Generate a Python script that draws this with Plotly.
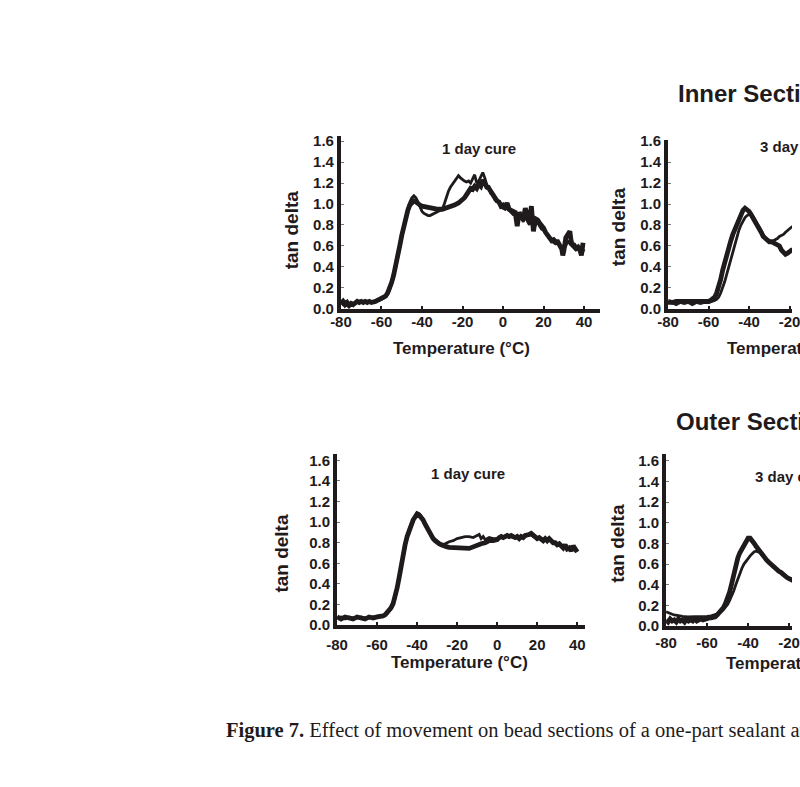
import plotly.graph_objects as go

# ---------------- data ----------------
x_tick_vals = [-80, -60, -40, -20, 0, 20, 40]
x_tick_text = ["-80", "-60", "-40", "-20", "0", "20", "40"]
y_tick_vals = [0.0, 0.2, 0.4, 0.6, 0.8, 1.0, 1.2, 1.4, 1.6]
y_tick_text = ["0.0", "0.2", "0.4", "0.6", "0.8", "1.0", "1.2", "1.4", "1.6"]

section_titles = ["Inner Section", "Outer Section"]
panel_titles = ["1 day cure", "3 day cure"]
x_title = "Temperature (°C)"
y_title = "tan delta"
caption_bold = "Figure 7."
caption_text = "Effect of movement on bead sections of a one-part sealant at"

# (temperature °C, tan delta) points
inner_1day_a = [
    (-80, 0.05), (-79, 0.07), (-78, 0.04), (-77, 0.06), (-76, 0.03), (-75, 0.05), (-74, 0.04), (-73, 0.06),
    (-72, 0.07), (-71, 0.06), (-70, 0.07), (-69, 0.06), (-68, 0.07), (-67, 0.06), (-66, 0.07), (-65, 0.06),
    (-64, 0.06), (-63, 0.07), (-62, 0.08), (-61, 0.09), (-60, 0.09), (-59, 0.10), (-58, 0.12), (-57, 0.15),
    (-56, 0.19), (-55, 0.25), (-54, 0.32), (-53, 0.40), (-52, 0.50), (-51, 0.60), (-50, 0.70), (-49, 0.79),
    (-48, 0.87), (-47, 0.94), (-46, 0.99), (-45, 1.02), (-44, 1.03), (-43, 1.02), (-42, 1.00), (-41, 0.99),
    (-40, 0.98), (-38, 0.97), (-36, 0.96), (-34, 0.955), (-32, 0.95), (-30, 0.95), (-28, 0.96), (-26, 0.97),
    (-24, 0.99), (-22, 1.01), (-20, 1.04), (-19, 1.06), (-18, 1.09), (-17, 1.13), (-16, 1.15), (-15, 1.14),
    (-14, 1.17), (-13, 1.15), (-12, 1.19), (-11, 1.17), (-10, 1.23), (-9, 1.20), (-8, 1.16), (-7, 1.15),
    (-6, 1.12), (-5, 1.08), (-4, 1.06), (-3, 1.03), (-2, 1.02), (-1, 0.98), (0, 0.99), (1, 0.97),
    (2, 1.01), (3, 0.95), (4, 0.94), (5, 0.93), (6, 0.92), (7, 0.79), (7.5, 0.90), (8, 0.92),
    (9, 0.88), (10, 0.85), (11, 0.96), (12, 0.86), (13, 0.82), (14, 0.98), (15, 0.74), (16, 0.86),
    (17, 0.85), (18, 0.82), (19, 0.80), (20, 0.77), (21, 0.73), (22, 0.70), (23, 0.68), (24, 0.65),
    (25, 0.66), (26, 0.64), (27, 0.64), (28, 0.60), (29, 0.57), (29.5, 0.51), (30, 0.55), (31, 0.68),
    (32, 0.72), (33, 0.74), (33.5, 0.66), (34, 0.62), (35, 0.61), (36, 0.58), (37, 0.59), (38, 0.56),
    (38.7, 0.51), (39, 0.56), (39.5, 0.63),
]
inner_1day_b = [
    (-80, 0.06), (-79, 0.04), (-78, 0.07), (-77, 0.05), (-76, 0.04), (-75, 0.06), (-74, 0.05), (-73, 0.05),
    (-72, 0.06), (-71, 0.07), (-70, 0.06), (-69, 0.07), (-68, 0.07), (-67, 0.06), (-66, 0.07), (-65, 0.07),
    (-64, 0.06), (-63, 0.07), (-62, 0.08), (-61, 0.08), (-60, 0.09), (-59, 0.10), (-58, 0.12), (-57, 0.14),
    (-56, 0.18), (-55, 0.24), (-54, 0.31), (-53, 0.39), (-52, 0.49), (-51, 0.59), (-50, 0.69), (-49, 0.79),
    (-48, 0.88), (-47, 0.96), (-46, 1.02), (-45, 1.06), (-44, 1.08), (-43, 1.06), (-42, 1.02), (-41, 0.97),
    (-40, 0.93), (-39, 0.91), (-38, 0.90), (-37, 0.89), (-36, 0.89), (-35, 0.90), (-34, 0.91), (-33, 0.92),
    (-32, 0.93), (-31, 0.94), (-30, 0.95), (-29, 1.00), (-28, 1.07), (-27, 1.12), (-26, 1.16), (-25, 1.19),
    (-24, 1.22), (-23, 1.25), (-22, 1.27), (-21, 1.25), (-20, 1.23), (-19, 1.22), (-18, 1.21), (-17, 1.22),
    (-16, 1.20), (-15, 1.24), (-14, 1.28), (-13, 1.20), (-12, 1.22), (-11, 1.26), (-10, 1.30), (-9, 1.25),
    (-8, 1.18), (-7, 1.17), (-6, 1.10), (-5, 1.09), (-4, 1.04), (-3, 1.04), (-2, 1.00), (-1, 0.97),
    (0, 0.96), (1, 0.95), (2, 0.96), (3, 0.94), (4, 0.91), (5, 0.90), (6, 0.90), (7, 0.88),
    (8, 0.86), (9, 0.87), (10, 0.83), (11, 0.88), (12, 0.84), (13, 0.80), (14, 0.87), (15, 0.82),
    (16, 0.80), (17, 0.83), (18, 0.79), (19, 0.76), (20, 0.75), (21, 0.72), (22, 0.70), (23, 0.67),
    (24, 0.66), (25, 0.63), (26, 0.62), (27, 0.63), (28, 0.60), (29, 0.58), (30, 0.57), (31, 0.60),
    (32, 0.65), (33, 0.62), (34, 0.60), (35, 0.58), (36, 0.56), (37, 0.57), (38, 0.54), (39, 0.53),
    (40, 0.57),
]
inner_3day_a = [
    (-80, 0.07), (-78, 0.06), (-76, 0.07), (-74, 0.07), (-72, 0.06), (-70, 0.07), (-68, 0.07), (-66, 0.06),
    (-64, 0.07), (-62, 0.07), (-61, 0.07), (-60, 0.07), (-59, 0.08), (-58, 0.09), (-57, 0.11), (-56, 0.15),
    (-55, 0.20), (-54, 0.28), (-53, 0.37), (-52, 0.45), (-51, 0.53), (-50, 0.59), (-49, 0.65), (-48, 0.71),
    (-47, 0.76), (-46, 0.81), (-45, 0.86), (-44, 0.91), (-43, 0.94), (-42, 0.96), (-41, 0.95), (-40, 0.93),
    (-39, 0.90), (-38, 0.87), (-37, 0.84), (-36, 0.81), (-35, 0.77), (-34, 0.73), (-33, 0.69), (-32, 0.67),
    (-31, 0.65), (-30, 0.64), (-29, 0.64), (-28, 0.63), (-27, 0.62), (-26, 0.61), (-25, 0.60), (-24, 0.56),
    (-23, 0.53), (-22, 0.52), (-21, 0.53), (-20, 0.55), (-19, 0.56), (-18, 0.56), (-17, 0.57),
]
inner_3day_b = [
    (-80, 0.05), (-78, 0.06), (-76, 0.04), (-74, 0.06), (-72, 0.05), (-70, 0.06), (-68, 0.04), (-66, 0.06),
    (-64, 0.05), (-62, 0.06), (-60, 0.06), (-58, 0.07), (-57, 0.08), (-56, 0.09), (-55, 0.11), (-54, 0.15),
    (-53, 0.20), (-52, 0.26), (-51, 0.33), (-50, 0.40), (-49, 0.48), (-48, 0.56), (-47, 0.63), (-46, 0.69),
    (-45, 0.75), (-44, 0.80), (-43, 0.84), (-42, 0.87), (-41, 0.89), (-40, 0.90), (-39, 0.91), (-38, 0.88),
    (-37, 0.84), (-36, 0.81), (-35, 0.78), (-34, 0.74), (-33, 0.71), (-32, 0.68), (-31, 0.66), (-30, 0.65),
    (-29, 0.64), (-28, 0.65), (-27, 0.66), (-26, 0.67), (-25, 0.69), (-24, 0.70), (-23, 0.71), (-22, 0.73),
    (-21, 0.75), (-20, 0.77), (-19, 0.78), (-18, 0.79), (-17, 0.80),
]
outer_1day_a = [
    (-80, 0.08), (-78, 0.06), (-76, 0.08), (-74, 0.07), (-72, 0.06), (-70, 0.08), (-68, 0.07), (-66, 0.06),
    (-64, 0.08), (-62, 0.07), (-60, 0.08), (-58, 0.08), (-57, 0.09), (-56, 0.10), (-55, 0.12), (-54, 0.14),
    (-53, 0.17), (-52, 0.21), (-51, 0.27), (-50, 0.36), (-49, 0.46), (-48, 0.58), (-47, 0.69), (-46, 0.78),
    (-45, 0.86), (-44, 0.92), (-43, 0.98), (-42, 1.02), (-41, 1.05), (-40, 1.08), (-39, 1.07), (-38, 1.05),
    (-37, 1.02), (-36, 0.98), (-35, 0.94), (-34, 0.90), (-33, 0.87), (-32, 0.84), (-31, 0.82), (-30, 0.80),
    (-29, 0.79), (-28, 0.78), (-27, 0.77), (-26, 0.76), (-25, 0.76), (-24, 0.755), (-22, 0.755), (-20, 0.755),
    (-18, 0.75), (-16, 0.75), (-14, 0.745), (-12, 0.76), (-10, 0.78), (-8, 0.79), (-6, 0.80), (-4, 0.82),
    (-2, 0.82), (0, 0.83), (1, 0.85), (2, 0.86), (3, 0.85), (4, 0.86), (5, 0.87), (6, 0.86),
    (7, 0.87), (8, 0.86), (9, 0.85), (10, 0.86), (11, 0.84), (12, 0.86), (13, 0.85), (14, 0.87),
    (15, 0.87), (16, 0.88), (17, 0.89), (18, 0.87), (19, 0.85), (20, 0.84), (21, 0.85), (22, 0.83),
    (23, 0.82), (24, 0.84), (25, 0.82), (26, 0.84), (27, 0.81), (28, 0.80), (29, 0.80), (30, 0.78),
    (31, 0.79), (32, 0.77), (33, 0.75), (34, 0.78), (35, 0.74), (36, 0.75), (37, 0.72), (38, 0.77),
    (39, 0.73), (40, 0.71),
]
outer_1day_b = [
    (-80, 0.07), (-78, 0.08), (-76, 0.06), (-74, 0.08), (-72, 0.07), (-70, 0.07), (-68, 0.08), (-66, 0.07),
    (-64, 0.07), (-62, 0.08), (-60, 0.08), (-58, 0.09), (-57, 0.09), (-56, 0.10), (-55, 0.11), (-54, 0.13),
    (-53, 0.16), (-52, 0.20), (-51, 0.26), (-50, 0.35), (-49, 0.45), (-48, 0.57), (-47, 0.68), (-46, 0.78),
    (-45, 0.86), (-44, 0.93), (-43, 0.99), (-42, 1.03), (-41, 1.06), (-40, 1.09), (-39, 1.08), (-38, 1.06),
    (-37, 1.03), (-36, 0.99), (-35, 0.95), (-34, 0.91), (-33, 0.88), (-32, 0.85), (-31, 0.83), (-30, 0.81),
    (-29, 0.80), (-28, 0.79), (-27, 0.785), (-26, 0.79), (-25, 0.80), (-24, 0.81), (-22, 0.82), (-20, 0.84),
    (-18, 0.85), (-16, 0.86), (-14, 0.86), (-12, 0.85), (-10, 0.87), (-9, 0.88), (-8, 0.84), (-7, 0.86),
    (-6, 0.83), (-4, 0.85), (-2, 0.84), (0, 0.84), (2, 0.85), (4, 0.86), (6, 0.87), (8, 0.85),
    (10, 0.86), (12, 0.85), (14, 0.86), (16, 0.87), (17, 0.88), (18, 0.86), (20, 0.85), (22, 0.84),
    (24, 0.83), (26, 0.83), (28, 0.81), (30, 0.79), (32, 0.78), (34, 0.76), (36, 0.74), (38, 0.75),
    (40, 0.72),
]
outer_3day_a = [
    (-80, 0.06), (-79, 0.04), (-78, 0.07), (-77, 0.05), (-76, 0.06), (-75, 0.04), (-74, 0.07), (-73, 0.05),
    (-72, 0.06), (-71, 0.04), (-70, 0.07), (-69, 0.05), (-68, 0.06), (-67, 0.05), (-66, 0.07), (-65, 0.05),
    (-64, 0.06), (-63, 0.07), (-62, 0.06), (-61, 0.07), (-60, 0.07), (-59, 0.08), (-58, 0.08), (-57, 0.08),
    (-56, 0.09), (-55, 0.11), (-54, 0.13), (-53, 0.15), (-52, 0.18), (-51, 0.22), (-50, 0.27), (-49, 0.33),
    (-48, 0.41), (-47, 0.50), (-46, 0.60), (-45, 0.66), (-44, 0.71), (-43, 0.75), (-42, 0.79), (-41, 0.83),
    (-40, 0.85), (-39, 0.85), (-38, 0.83), (-37, 0.80), (-36, 0.77), (-35, 0.74), (-34, 0.71), (-33, 0.68),
    (-32, 0.66), (-31, 0.64), (-30, 0.62), (-29, 0.60), (-28, 0.58), (-27, 0.56), (-26, 0.55), (-25, 0.53),
    (-24, 0.52), (-23, 0.50), (-22, 0.48), (-21, 0.47), (-20, 0.46), (-19, 0.45), (-18, 0.44), (-17, 0.43),
]
outer_3day_b = [
    (-80, 0.14), (-79, 0.13), (-78, 0.12), (-77, 0.115), (-76, 0.11), (-75, 0.105), (-74, 0.10), (-72, 0.095),
    (-70, 0.09), (-68, 0.09), (-66, 0.09), (-64, 0.09), (-62, 0.09), (-60, 0.095), (-58, 0.10), (-56, 0.11),
    (-55, 0.12), (-54, 0.13), (-53, 0.14), (-52, 0.16), (-51, 0.18), (-50, 0.21), (-49, 0.25), (-48, 0.29),
    (-47, 0.34), (-46, 0.40), (-45, 0.46), (-44, 0.51), (-43, 0.56), (-42, 0.60), (-41, 0.63), (-40, 0.66),
    (-39, 0.68), (-38, 0.70), (-37, 0.72), (-36, 0.725), (-35, 0.72), (-34, 0.71), (-33, 0.68), (-32, 0.66),
    (-31, 0.64), (-30, 0.62), (-28, 0.58), (-26, 0.55), (-24, 0.52), (-22, 0.48), (-20, 0.46), (-18, 0.44),
    (-17, 0.43),
]

# ---------------- styling / layout ----------------
W, H = 800, 787
INK = "#1f1b1c"
SANS = "Liberation Sans, Arial, sans-serif"
SERIF = "Liberation Serif, Times New Roman, serif"

# pixel geometry of each panel: L = x px of -80, kx = px per degree, R = right end,
# B = y px of 0.0, ky = px per unit, T = top of y axis
panels = [
    dict(curves=(inner_1day_a, inner_1day_b), L=338, kx=2.075, R=603, B=307, ky=106.9, T=131, stand=-4,
         title=panel_titles[0], title_xy=(479, 143.5, "center"),
         ytitle_xy=(287, 226.7), xtitle_xy=(461, 348, "center")),
    dict(curves=(inner_3day_a, inner_3day_b), L=673, kx=2.075, R=800, B=307, ky=106.9, T=135, stand=-4,
         title=panel_titles[1], title_xy=(765, 141, "left"),
         ytitle_xy=(623, 223.5), xtitle_xy=(731, 348, "left")),
    dict(curves=(outer_1day_a, outer_1day_b), L=334, kx=2.05, R=588, B=630, ky=105.2, T=455, stand=3,
         title=panel_titles[0], title_xy=(468, 475, "center"),
         ytitle_xy=(277.5, 556), xtitle_xy=(459, 668, "center")),
    dict(curves=(outer_3day_a, outer_3day_b), L=671, kx=2.1, R=800, B=631, ky=105.6, T=455, stand=0,
         title=panel_titles[1], title_xy=(760, 478, "left"),
         ytitle_xy=(621.5, 546), xtitle_xy=(730, 669, "left")),
]

fig = go.Figure()
annotations = []
layout_axes = {}

for i, p in enumerate(panels, start=1):
    xa = "x" if i == 1 else f"x{i}"
    ya = "y" if i == 1 else f"y{i}"
    xr = [-80, -80 + (p["R"] - p["L"]) / p["kx"]]
    yr = [0, (p["B"] - p["T"]) / p["ky"]]
    xdom = [p["L"] / W, p["R"] / W]
    ydom = [1 - p["B"] / H, 1 - p["T"] / H]

    for curve, width in zip(p["curves"], (4.8, 2.8)):
        fig.add_trace(go.Scatter(
            x=[c[0] for c in curve], y=[c[1] for c in curve],
            mode="lines", line=dict(color=INK, width=width),
            xaxis=xa, yaxis=ya, showlegend=False, hoverinfo="skip",
        ))

    tickfont = dict(family=SANS, size=15, color=INK, weight="bold")
    layout_axes["xaxis" if i == 1 else f"xaxis{i}"] = dict(
        domain=xdom, range=xr, anchor=ya, showline=True, linewidth=4, linecolor=INK,
        showgrid=False, zeroline=False, tickmode="array", tickvals=x_tick_vals, ticktext=x_tick_text,
        ticks="inside", ticklen=3, tickwidth=1.5, tickcolor=INK, tickfont=tickfont,
        ticklabeloverflow="allow", ticklabelstandoff=p["stand"], fixedrange=True,
    )
    layout_axes["yaxis" if i == 1 else f"yaxis{i}"] = dict(
        domain=ydom, range=yr, anchor=xa, showline=True, linewidth=4, linecolor=INK,
        showgrid=False, zeroline=False, tickmode="array", tickvals=y_tick_vals, ticktext=y_tick_text,
        ticks="inside", ticklen=3, tickwidth=1, tickcolor="#777777", tickfont=tickfont,
        ticklabeloverflow="allow", fixedrange=True,
    )

    tx, ty, tanc = p["title_xy"]
    annotations.append(dict(text=p["title"], x=tx / W, y=1 - ty / H, xref="paper", yref="paper",
                            xanchor=tanc, yanchor="middle", showarrow=False,
                            font=dict(family=SANS, size=15, color=INK, weight="bold")))
    yx, yy = p["ytitle_xy"]
    annotations.append(dict(text=y_title, x=yx / W, y=1 - yy / H, xref="paper", yref="paper",
                            xanchor="center", yanchor="middle", textangle=-90, showarrow=False,
                            font=dict(family=SANS, size=19, color=INK, weight="bold")))
    xx, xy, xanc = p["xtitle_xy"]
    annotations.append(dict(text=x_title, x=xx / W, y=1 - xy / H, xref="paper", yref="paper",
                            xanchor=xanc, yanchor="middle", showarrow=False,
                            font=dict(family=SANS, size=17, color=INK, weight="bold")))

# section titles
for title, (sx, sy) in zip(section_titles, [(681, 87), (679, 422)]):
    annotations.append(dict(text=title, x=sx / W, y=1 - sy / H, xref="paper", yref="paper",
                            xanchor="left", yanchor="middle", showarrow=False,
                            font=dict(family=SANS, size=24, color=INK, weight="bold")))

# caption
annotations.append(dict(text=f"<b>{caption_bold}</b> {caption_text}", x=218 / W, y=1 - 738 / H,
                        xref="paper", yref="paper", xanchor="left", yanchor="middle", showarrow=False,
                        font=dict(family=SERIF, size=20.5, color=INK)))

fig.update_layout(
    width=W, height=H, margin=dict(l=0, r=0, t=0, b=0),
    paper_bgcolor="white", plot_bgcolor="white",
    annotations=annotations, **layout_axes,
)

fig.write_html("out.html", config={"displayModeBar": False},
               post_script="document.body.style.margin='0';document.body.style.overflow='hidden';")
